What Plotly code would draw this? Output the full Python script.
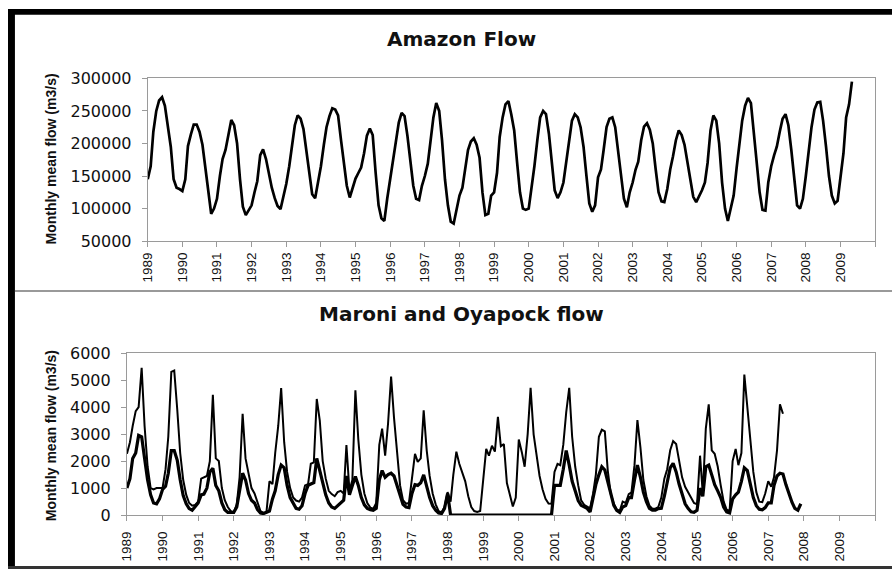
import pandas as pd
import plotly.graph_objects as go

# ---------------- data (monthly means, m3/s) ----------------
amazon_start = "1989-01-01"
amazon = [
    145000, 165000, 218000, 250000, 266000, 271000, 258000, 230000, 195000, 145000, 132000, 130000,
    127000, 145000, 196000, 214000, 229000, 229000, 218000, 198000, 160000, 122000, 92000, 100000,
    115000, 150000, 176000, 190000, 215000, 236000, 228000, 200000, 145000, 103000, 90000, 97000,
    105000, 125000, 142000, 182000, 191000, 176000, 152000, 132000, 116000, 104000, 99000, 118000,
    138000, 165000, 195000, 228000, 243000, 238000, 222000, 188000, 150000, 122000, 116000, 140000,
    165000, 198000, 225000, 242000, 254000, 252000, 243000, 205000, 170000, 135000, 117000, 132000,
    146000, 155000, 163000, 185000, 212000, 223000, 213000, 155000, 105000, 85000, 81000, 115000,
    145000, 172000, 205000, 232000, 247000, 242000, 212000, 170000, 135000, 115000, 113000, 135000,
    150000, 169000, 200000, 240000, 262000, 250000, 205000, 145000, 105000, 80000, 77000, 100000,
    120000, 132000, 160000, 190000, 203000, 208000, 198000, 178000, 124000, 90000, 92000, 120000,
    125000, 155000, 210000, 240000, 260000, 265000, 245000, 220000, 170000, 125000, 100000, 98000,
    100000, 132000, 165000, 205000, 240000, 250000, 245000, 215000, 170000, 128000, 116000, 125000,
    140000, 172000, 205000, 235000, 245000, 240000, 225000, 195000, 150000, 108000, 95000, 105000,
    148000, 160000, 190000, 225000, 238000, 240000, 225000, 185000, 145000, 115000, 102000, 125000,
    140000, 160000, 172000, 205000, 226000, 231000, 221000, 200000, 160000, 125000, 111000, 110000,
    130000, 160000, 180000, 205000, 220000, 213000, 198000, 170000, 140000, 118000, 110000, 118000,
    128000, 140000, 170000, 220000, 243000, 235000, 200000, 140000, 100000, 81000, 100000, 120000,
    162000, 200000, 235000, 258000, 270000, 262000, 220000, 175000, 125000, 98000, 97000, 140000,
    165000, 182000, 195000, 218000, 238000, 245000, 228000, 190000, 150000, 105000, 100000, 115000,
    150000, 190000, 225000, 252000, 263000, 264000, 235000, 195000, 150000, 120000, 108000, 112000,
    145000, 185000, 240000, 260000, 295000,
]

maroni_start = "1989-01-01"
maroni = [
    2270, 2700, 3300, 3850, 4000, 5450, 3300, 1800, 1000, 950, 1000, 1000,
    1000, 1700, 2900, 5300, 5350, 3900, 2300, 1300, 750, 450, 350, 380,
    500, 1350, 1400, 1450, 2000, 4450, 2100, 2000, 1000, 550, 300, 150,
    100, 400, 1400, 3750, 2100, 1500, 1000, 800, 450, 150, 80, 100,
    1250, 1150, 2300, 3300, 4700, 2700, 1600, 1000, 650, 540, 500, 650,
    1100, 1150, 1900, 1950, 4300, 3500, 2000, 1350, 900, 780, 700, 850,
    900, 800, 2590, 900, 1300, 4620, 2800, 1500, 800, 450, 280, 240,
    450, 2600, 3200, 2200, 3400, 5130, 3600, 2200, 1100, 550, 420, 450,
    1300, 2270, 1970, 2100, 3880, 2400, 1450, 800, 400, 150, 100, 300,
    850, 500, 1500, 2350, 1900, 1550, 1250, 700, 300, 150, 120, 150,
    1400, 2450, 2200, 2570, 2350, 3640, 2550, 2630, 1190, 700, 320, 650,
    2800, 2330, 1790, 3000, 4710, 2990, 2300, 1450, 950, 600, 430, 420,
    1600, 1900, 1850, 2600, 3800, 4710, 2900, 1800, 1100, 550, 380, 300,
    250, 800, 1500, 2900, 3160, 3100, 1650, 780, 420, 200, 160, 500,
    450, 780, 840, 1850, 3520, 2500, 1300, 700, 350, 240, 240, 300,
    650, 1350, 1700, 2400, 2740, 2630, 2000, 1400, 1050, 850, 650, 450,
    400, 2200, 800, 3200, 4100, 2400, 2270, 1800, 1100, 500, 200, 150,
    2000, 2450, 1850, 2300, 5200, 3900, 2800, 1600, 850, 500, 480, 800,
    1250, 1050, 1400, 2400, 4100, 3750,
]

oyapock_start = "1989-01-01"
oyapock = [
    1000, 1350, 2100, 2300, 2950, 2900, 2100, 1300, 750, 450, 420, 600,
    950, 1070, 1550, 2390, 2390, 2030, 1310, 720, 420, 240, 180, 300,
    450, 750, 780, 1000, 1600, 1730, 1100, 900, 450, 200, 100, 100,
    100, 300, 1000, 1550, 1300, 800, 550, 450, 200, 80, 60, 100,
    150, 600, 900, 1500, 1850, 1750, 1100, 650, 420, 250, 220, 350,
    800, 1100, 1150, 1200, 2100, 1600, 1200, 750, 450, 300, 250, 350,
    450, 550, 1450, 750, 1100, 1430, 1100, 650, 380, 250, 200, 180,
    250, 1300, 1650, 1400, 1500, 1550, 1450, 1100, 750, 400, 300, 280,
    800, 1130, 1100, 1200, 1490, 1000, 650, 350, 180, 80, 60, 250,
    800, 0, 0, 0, 0, 0, 0, 0, 0, 0, 0, 0,
    0, 0, 0, 0, 0, 0, 0, 0, 0, 0, 0, 0,
    0, 0, 0, 0, 0, 0, 0, 0, 0, 0, 0, 0,
    1100, 1100, 1100, 1700, 2390, 1850, 1250, 900, 540, 360, 300, 250,
    120, 650, 1130, 1490, 1790, 1670, 1250, 780, 360, 180, 100, 300,
    350, 650, 650, 1300, 1850, 1400, 850, 500, 250, 180, 180, 240,
    250, 700, 1200, 1750, 1920, 1600, 1150, 780, 420, 250, 120, 100,
    180, 1000, 700, 1790, 1850, 1490, 1130, 900, 650, 300, 120, 80,
    600, 750, 850, 1250, 1750, 1650, 1200, 650, 350, 220, 200, 280,
    450, 450, 1100, 1450, 1550, 1520, 1130, 780, 480, 250, 180, 420,
]

year_ticks = list(range(1989, 2011))
year_labels = [str(y) if y <= 2009 else "" for y in year_ticks]

top_title = "Amazon Flow"
bottom_title = "Maroni and Oyapock flow"
y_title = "Monthly mean flow (m3/s)"

# ---------------- figure ----------------
W, H = 892, 579


def px_x(v):
    return v / W


def px_y(v):
    return 1 - v / H


amazon_dates = pd.date_range(amazon_start, periods=len(amazon), freq="MS")
maroni_dates = pd.date_range(maroni_start, periods=len(maroni), freq="MS")
oyapock_dates = pd.date_range(oyapock_start, periods=len(oyapock), freq="MS")
tick_dates = [f"{y}-01-01" for y in year_ticks]

fig = go.Figure()
fig.add_trace(go.Scatter(x=amazon_dates, y=amazon, mode="lines",
                         line=dict(color="black", width=2.7),
                         xaxis="x", yaxis="y", showlegend=False))
fig.add_trace(go.Scatter(x=maroni_dates, y=maroni, mode="lines",
                         line=dict(color="black", width=2.0),
                         xaxis="x2", yaxis="y2", showlegend=False))
fig.add_trace(go.Scatter(x=oyapock_dates, y=oyapock, mode="lines",
                         line=dict(color="black", width=3.2),
                         xaxis="x2", yaxis="y2", showlegend=False))

xfont = dict(family="Liberation Sans, Arial, sans-serif", size=13.5, color="#111")
yfont = dict(family="DejaVu Sans, sans-serif", size=16, color="#111")
axis_common = dict(showline=True, linecolor="#9a9a9a", linewidth=1, mirror=True,
                   showgrid=False, zeroline=False, ticks="outside",
                   tickcolor="#9a9a9a", ticklen=5)

fig.update_layout(
    width=W, height=H, margin=dict(l=0, r=0, t=0, b=0),
    paper_bgcolor="white", plot_bgcolor="white",
    xaxis=dict(domain=[px_x(141), px_x(875)], anchor="y", type="date",
               range=["1989-01-01", "2010-01-01"], tickmode="array",
               tickvals=tick_dates, ticktext=year_labels, tickangle=-90,
               tickfont=xfont, **axis_common),
    yaxis=dict(domain=[px_y(240), px_y(71.7)], anchor="x",
               range=[50000, 300000], dtick=50000, tickformat="d",
               tickfont=yfont, ticklabelstandoff=7, **axis_common),
    xaxis2=dict(domain=[px_x(120), px_x(875)], anchor="y2", type="date",
                range=["1989-01-01", "2010-01-01"], tickmode="array",
                tickvals=tick_dates, ticktext=year_labels, tickangle=-90,
                tickfont=xfont, ticklabelstandoff=5, **axis_common),
    yaxis2=dict(domain=[px_y(523.3), px_y(355.7)], anchor="x2",
                range=[0, 6000], dtick=1000, tickformat="d",
                tickfont=yfont, ticklabelstandoff=7, **axis_common),
)

title_font = dict(family="DejaVu Sans, sans-serif", size=20, color="#111", weight="bold")
ytitle_font = dict(family="Liberation Sans, Arial, sans-serif", size=14, color="#111", weight="bold")
fig.add_annotation(text=top_title, x=px_x(458), y=px_y(31), xref="paper", yref="paper",
                   showarrow=False, font=title_font, xanchor="center", yanchor="middle")
fig.add_annotation(text=bottom_title, x=px_x(458), y=px_y(315), xref="paper", yref="paper",
                   showarrow=False, font=title_font, xanchor="center", yanchor="middle")
fig.add_annotation(text=y_title, x=px_x(43), y=px_y(155), xref="paper", yref="paper",
                   showarrow=False, font=ytitle_font, textangle=-90,
                   xanchor="center", yanchor="middle")
fig.add_annotation(text=y_title, x=px_x(43), y=px_y(441), xref="paper", yref="paper",
                   showarrow=False, font=ytitle_font, textangle=-90,
                   xanchor="center", yanchor="middle")

# frame decorations
fig.add_shape(type="rect", xref="paper", yref="paper", x0=0, x1=px_x(7), y0=0, y1=1,
              fillcolor="black", line=dict(width=0), layer="above")
fig.add_shape(type="rect", xref="paper", yref="paper", x0=0, x1=1, y0=px_y(6), y1=1,
              fillcolor="black", line=dict(width=0), layer="above")
fig.add_shape(type="rect", xref="paper", yref="paper", x0=0, x1=1, y0=0, y1=px_y(576),
              fillcolor="#333333", line=dict(width=0), layer="above")
fig.add_shape(type="line", xref="paper", yref="paper", x0=px_x(7), x1=1,
              y0=px_y(291.5), y1=px_y(291.5), line=dict(color="#777777", width=1.5))

fig.write_html("out.html", config={"displayModeBar": False},
               post_script="document.body.style.margin='0';")
